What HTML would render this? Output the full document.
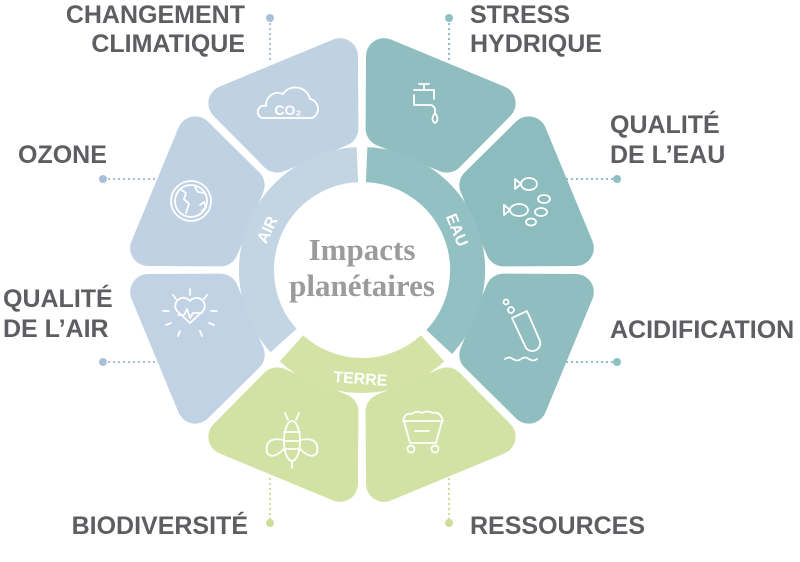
<!DOCTYPE html>
<html><head><meta charset="utf-8"><style>
html,body{margin:0;padding:0;background:#fff;}
svg{display:block;}
.l{font-family:"Liberation Sans",sans-serif;font-weight:bold;font-size:25px;fill:#5d5e62;}
.r{font-family:"Liberation Sans",sans-serif;font-weight:bold;font-size:16px;fill:#fff;}
.ic{fill:none;stroke:#fff;stroke-width:1.8;stroke-linecap:round;stroke-linejoin:round;}
</style></head><body>
<svg width="800" height="562" viewBox="0 0 800 562">
<defs>
<polygon id="p" points="-34.2,-139 34.2,-139 61.5,-206 -61.5,-206" stroke-width="36" stroke-linejoin="round"/>
</defs>
<g stroke-width="2" stroke-dasharray="2,3" fill="none">
<line x1="270" y1="18" x2="270" y2="62" stroke="#a9bfd9"/>
<line x1="449" y1="18" x2="449" y2="62" stroke="#8cc0c3"/>
<line x1="103" y1="179" x2="158" y2="179" stroke="#a9bfd9"/>
<line x1="103" y1="362" x2="158" y2="362" stroke="#a9bfd9"/>
<line x1="566" y1="179" x2="617" y2="179" stroke="#8cc0c3"/>
<line x1="566" y1="362" x2="617" y2="362" stroke="#8cc0c3"/>
<line x1="270" y1="478" x2="270" y2="523" stroke="#cddd9a"/>
<line x1="449" y1="478" x2="449" y2="523" stroke="#cddd9a"/>
</g>
<g>
<circle cx="270" cy="18" r="4" fill="#a9bfd9"/><circle cx="449" cy="18" r="4" fill="#8cc0c3"/>
<circle cx="103" cy="179" r="4" fill="#a9bfd9"/><circle cx="103" cy="362" r="4" fill="#a9bfd9"/>
<circle cx="617" cy="179" r="4" fill="#8cc0c3"/><circle cx="617" cy="362" r="4" fill="#8cc0c3"/>
<circle cx="270" cy="523" r="4" fill="#cddd9a"/><circle cx="449" cy="523" r="4" fill="#cddd9a"/>
</g>
<g transform="translate(362,270)">
<use href="#p" transform="rotate(22.5)" fill="#8fbdc0" stroke="#8fbdc0"/>
<use href="#p" transform="rotate(67.5)" fill="#8dbcbf" stroke="#8dbcbf"/>
<use href="#p" transform="rotate(112.5)" fill="#8fbdc0" stroke="#8fbdc0"/>
<use href="#p" transform="rotate(157.5)" fill="#d2e2a5" stroke="#d2e2a5"/>
<use href="#p" transform="rotate(202.5)" fill="#d2e2a5" stroke="#d2e2a5"/>
<use href="#p" transform="rotate(247.5)" fill="#c0d2e3" stroke="#c0d2e3"/>
<use href="#p" transform="rotate(292.5)" fill="#bfd1e2" stroke="#bfd1e2"/>
<use href="#p" transform="rotate(337.5)" fill="#c0d2e2" stroke="#c0d2e2"/>
</g>
<g fill="none" stroke-width="35">
<path d="M283.6,340.6 A105.5,105.5 0 0 1 357.4,164.6" stroke="#c3d5e3"/>
<path d="M366.6,164.6 A105.5,105.5 0 0 1 439.2,342" stroke="#93c0c3"/>
<path d="M432.6,348.4 A105.5,105.5 0 0 1 291.4,348.4" stroke="#d4e3a5"/>
</g>
<text class="r" transform="translate(272,232) rotate(-65)" text-anchor="middle">AIR</text>
<text class="r" transform="translate(452,232) rotate(68)" text-anchor="middle">EAU</text>
<text class="r" transform="translate(360,384) rotate(4)" text-anchor="middle">TERRE</text>
<text x="362" y="260" text-anchor="middle" font-family="Liberation Serif,serif" font-weight="bold" font-size="31" fill="#9b9b9b">Impacts</text>
<text x="362" y="296" text-anchor="middle" font-family="Liberation Serif,serif" font-weight="bold" font-size="31" fill="#9b9b9b">planétaires</text>
<g class="ic">
<path d="M262,118 h50 a10,10 0 0 0 -2,-19 a15,15 0 0 0 -27,-5 a12,12 0 0 0 -17,12 a6,6 0 0 0 -4,12z"/>
<text x="288" y="115" text-anchor="middle" font-family="Liberation Sans,sans-serif" font-weight="bold" font-size="14" fill="#fff" stroke="none">CO₂</text>
<circle cx="191" cy="201" r="20"/><circle cx="191" cy="201" r="16"/>
<path d="M180,189 l6,4 -2,6 5,5 -3,9 M195,187 l3,5 6,1 M200,205 l4,-3 2,5 -4,4"/>
<path d="M190,323 l-13,-12 a8,8 0 0 1 13,-10 a8,8 0 0 1 13,10 z M178,315 h6 l3,-6 3,9 3,-5 h9"/>
<path d="M190,295 v-6 M176,299 l-3,-4 M204,299 l3,-4 M169,311 h-6 M211,311 h6 M171,323 l-5,2 M209,323 l5,2 M180,331 l-2,5 M200,331 l2,5"/>
<path d="M414,90 h20 v9 M424,84 v6 M419,84 h10 M414,95 v10 h16 a5,5 0 0 1 5,5 v3 M435,113 q-5,7 0,10 q5,-3 0,-10"/>
<ellipse cx="529" cy="184" rx="8" ry="6"/><path d="M521,184 l-6,-5 v10z"/>
<ellipse cx="519" cy="210" rx="9" ry="6"/><path d="M510,210 l-6,-5 v10z"/>
<ellipse cx="544" cy="199" rx="6" ry="4"/><ellipse cx="541" cy="212" rx="6" ry="4"/><ellipse cx="531" cy="222" rx="5" ry="3.5"/>
<path d="M512,318 l15,-7 13,30 a8,8 0 0 1 -14,7 z"/><circle cx="511" cy="310" r="3"/><circle cx="506" cy="302" r="2.5"/>
<path d="M505,359 q4,-3 8,0 q4,3 8,0 q4,-3 8,0 q4,3 8,0"/>
<ellipse cx="292" cy="441" rx="8" ry="20"/><path d="M284,432 h16 M284,441 h16 M284,449 h16 M284,440 q-20,-4 -17,13 q6,7 17,-4 M300,440 q20,-4 17,13 q-6,7 -17,-4 M288,420 l-3,-7 M296,420 l3,-7 M292,461 v7"/>
<path d="M404,421 h38 l-6,22 h-26 z M403,421 q2,-9 9,-7 q4,-4 10,-1 q5,-3 11,0 q7,-2 10,8 M415,431 h14"/><circle cx="411" cy="449" r="3.5"/><circle cx="435" cy="449" r="3.5"/>
</g>
<text class="l" x="245" y="23" text-anchor="end">CHANGEMENT</text>
<text class="l" x="245" y="52" text-anchor="end">CLIMATIQUE</text>
<text class="l" x="470" y="23">STRESS</text>
<text class="l" x="470" y="52">HYDRIQUE</text>
<text class="l" x="18" y="163">OZONE</text>
<text class="l" x="610" y="133">QUALITÉ</text>
<text class="l" x="610" y="163">DE L’EAU</text>
<text class="l" x="3" y="307">QUALITÉ</text>
<text class="l" x="3" y="337">DE L’AIR</text>
<text class="l" x="610" y="338">ACIDIFICATION</text>
<text class="l" x="248" y="534" text-anchor="end">BIODIVERSITÉ</text>
<text class="l" x="470" y="534">RESSOURCES</text>
</svg>
</body></html>
